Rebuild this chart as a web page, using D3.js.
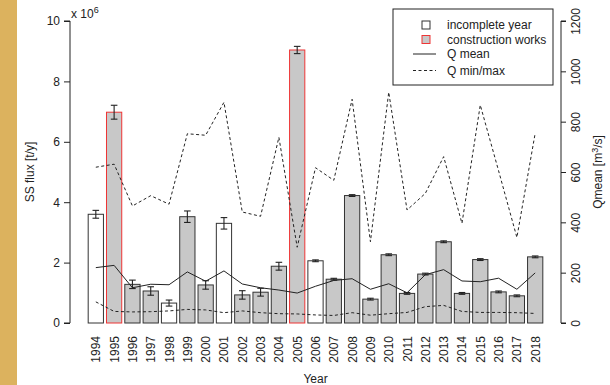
<!DOCTYPE html>
<html><head><meta charset="utf-8">
<script src="https://cdn.jsdelivr.net/npm/d3@7"></script>
<style>body{margin:0;background:#fff}svg{display:block;font-family:"Liberation Sans",Arial,Helvetica,sans-serif}</style>
</head><body><svg id="c" width="610" height="385"></svg>
<script>
const years = [1994,1995,1996,1997,1998,1999,2000,2001,2002,2003,2004,2005,2006,2007,2008,2009,2010,2011,2012,2013,2014,2015,2016,2017,2018];
const ssFlux = [3.60,6.98,1.28,1.06,0.66,3.52,1.26,3.30,0.93,1.02,1.88,9.04,2.06,1.45,4.22,0.79,2.26,0.98,1.62,2.69,0.98,2.10,1.03,0.90,2.19];
const ssErr  = [0.13,0.23,0.14,0.14,0.10,0.19,0.14,0.19,0.14,0.13,0.13,0.12,0.03,0.03,0.03,0.03,0.03,0.03,0.03,0.03,0.03,0.03,0.03,0.03,0.03];
const yearType = ["incomplete","construction","normal","normal","incomplete","normal","normal","incomplete","normal","normal","normal","construction","incomplete","normal","normal","normal","normal","normal","normal","normal","normal","normal","normal","normal","normal"];
const qMean = [220,229,140,154,152,203,166,207,155,140,131,119,146,169,176,134,156,120,192,212,167,164,178,134,199];
const qMin  = [84,46,44,45,48,54,52,41,48,41,37,36,32,30,41,31,37,42,65,70,46,42,42,41,38];
const qMax  = [619,631,465,506,472,752,746,877,441,424,738,301,617,567,889,323,917,449,515,661,396,866,605,340,754];
const leftTicks = [0,2,4,6,8,10];
const rightTicks = [0,200,400,600,800,1000,1200];
const legendItems = [
  {label:"incomplete year", kind:"incomplete"},
  {label:"construction works", kind:"construction"},
  {label:"Q mean", kind:"line"},
  {label:"Q min/max", kind:"dash"}
];

const svg = d3.select("#c");
const ink = "#222";
svg.append("rect").attr("x",0).attr("y",0).attr("width",17).attr("height",385).attr("fill","#dcb25e");

const x = d3.scaleLinear().domain([-0.992, 31.192]).range([70, 561]);
const bw = x(1) - x(0);
const cx = i => x(0.7 + 1.2*i);
const y = d3.scaleLinear().domain([0,10]).range([323,21]);
const yq = d3.scaleLinear().domain([0,1200]).range([323,21]);

// bars
const fillOf = t => t === "incomplete" ? "#fff" : "#c8c8c8";
const strokeOf = t => t === "construction" ? "#ee3535" : "#333";
svg.append("g").selectAll("rect").data(years).join("rect")
  .attr("x",(d,i)=>cx(i)-bw/2).attr("width",bw)
  .attr("y",(d,i)=>y(ssFlux[i])).attr("height",(d,i)=>y(0)-y(ssFlux[i]))
  .attr("fill",(d,i)=>fillOf(yearType[i])).attr("stroke",(d,i)=>strokeOf(yearType[i])).attr("stroke-width",1);

// error bars
const eg = svg.append("g").attr("stroke",ink).attr("stroke-width",1.1);
years.forEach((d,i)=>{
  const c = cx(i), t = y(ssFlux[i]+ssErr[i]), b = y(ssFlux[i]-ssErr[i]);
  eg.append("line").attr("x1",c).attr("x2",c).attr("y1",t).attr("y2",b);
  eg.append("line").attr("x1",c-3.3).attr("x2",c+3.3).attr("y1",t).attr("y2",t);
  eg.append("line").attr("x1",c-3.3).attr("x2",c+3.3).attr("y1",b).attr("y2",b);
});

// Q lines
const lineGen = arr => d3.line().x((d,i)=>cx(i)).y(d=>yq(d))(arr);
svg.append("path").attr("d",lineGen(qMean)).attr("fill","none").attr("stroke",ink).attr("stroke-width",1);
[qMin,qMax].forEach(a=>svg.append("path").attr("d",lineGen(a)).attr("fill","none").attr("stroke",ink).attr("stroke-width",1).attr("stroke-dasharray","3,2.5"));

// left axis
const la = svg.append("g").attr("transform","translate(70,0)")
  .call(d3.axisLeft(y).tickValues(leftTicks).tickSize(6).tickPadding(4).tickFormat(d3.format("d")));
la.attr("font-family",null).attr("font-size",null);
la.select(".domain").attr("stroke",ink).attr("d","M-6,"+y(0)+"H0V"+y(10)+"H-6").attr("stroke-width",1);
la.selectAll(".tick line").attr("stroke",ink);
la.selectAll("text").attr("font-size",12).attr("fill",ink);

// right axis
const ra = svg.append("g").attr("transform","translate(561,0)")
  .call(d3.axisRight(yq).tickValues(rightTicks).tickSize(5).tickFormat(d3.format("d")));
ra.attr("font-family",null).attr("font-size",null);
ra.select(".domain").attr("stroke",ink).attr("d","M5,"+yq(0)+"H0V"+yq(1200)+"H5");
ra.selectAll(".tick line").attr("stroke",ink);
ra.selectAll("text").attr("font-size",12).attr("fill",ink)
  .attr("x",null).attr("dy",null).attr("text-anchor","middle")
  .attr("transform","translate(19,0) rotate(-90)");

// x labels
svg.append("g").selectAll("text").data(years).join("text")
  .attr("transform",(d,i)=>`translate(${cx(i)+4.5},336) rotate(-90)`)
  .attr("text-anchor","end").attr("font-size",12).attr("fill",ink).text(d=>d);

// titles
svg.append("text").attr("x",315.5).attr("y",383).attr("text-anchor","middle").attr("font-size",12).attr("fill",ink).text("Year");
svg.append("text").attr("transform","translate(34,172) rotate(-90)").attr("text-anchor","middle").attr("font-size",12).attr("fill",ink).text("SS flux [t/y]");
const rt = svg.append("text").attr("transform","translate(602,172) rotate(-90)").attr("text-anchor","middle").attr("font-size",12).attr("fill",ink);
rt.append("tspan").text("Qmean [m");
rt.append("tspan").attr("dy",-4).attr("font-size",9).text("3");
rt.append("tspan").attr("dy",4).text("/s]");
const mult = svg.append("text").attr("x",71).attr("y",18).attr("font-size",12).attr("fill",ink);
mult.append("tspan").text("x 10");
mult.append("tspan").attr("dy",-5).attr("font-size",9).text("6");

// legend
const lg = svg.append("g");
lg.append("rect").attr("x",393).attr("y",9).attr("width",160).attr("height",76).attr("fill","#fff").attr("stroke",ink);
const ly = [25,39.5,54,70.5];
legendItems.forEach((it,i)=>{
  const yy = ly[i];
  if (it.kind==="incomplete"||it.kind==="construction") {
    lg.append("rect").attr("x",422).attr("y",yy-4).attr("width",8).attr("height",8)
      .attr("fill",fillOf(it.kind)).attr("stroke",strokeOf(it.kind));
  } else {
    lg.append("line").attr("x1",413).attr("x2",436).attr("y1",yy).attr("y2",yy).attr("stroke",ink)
      .attr("stroke-dasharray",it.kind==="dash"?"3,2.5":null);
  }
  lg.append("text").attr("x",447).attr("y",yy+4.3).attr("font-size",12).attr("fill",ink).text(it.label);
});
</script></body></html>
